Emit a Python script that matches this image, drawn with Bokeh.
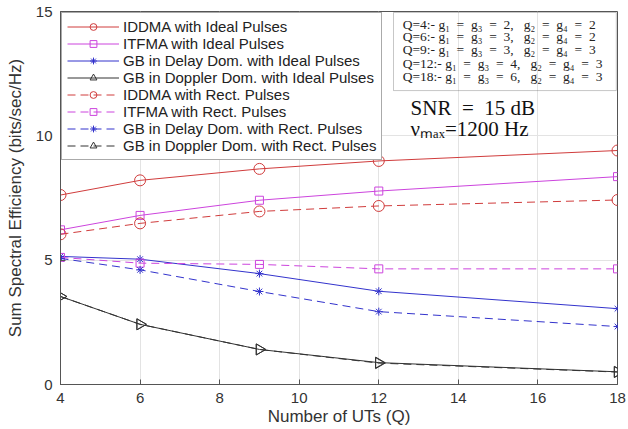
from bokeh.plotting import figure
from bokeh.models import Legend, LegendItem, BoxAnnotation, Label, FixedTicker, Range1d
from bokeh.embed import file_html
from bokeh.resources import INLINE
import numpy as np

Q = [4, 6, 9, 12, 18]
iddma_ideal = [7.62, 8.21, 8.67, 8.99, 9.41]
itfma_ideal = [6.22, 6.80, 7.41, 7.78, 8.36]
gb_delay_ideal = [5.15, 5.04, 4.46, 3.75, 3.05]
gb_doppler_ideal = [3.54, 2.42, 1.41, 0.88, 0.51]
iddma_rect = [6.04, 6.48, 6.96, 7.18, 7.42]
itfma_rect = [5.11, 4.88, 4.83, 4.65, 4.65]
gb_delay_rect = [5.07, 4.61, 3.74, 2.93, 2.33]
gb_doppler_rect = [3.54, 2.42, 1.41, 0.86, 0.50]

x_ticks = [4, 6, 8, 10, 12, 14, 16, 18]
y_ticks = [0, 5, 10, 15]

EQ = "\u2002=\u2002"
info_lines = [
    "Q=4:- g\u2081" + EQ + "g\u2083" + EQ + "2,\u2002 g\u2082" + EQ + "g\u2084" + EQ + "2",
    "Q=6:- g\u2081" + EQ + "g\u2083" + EQ + "3,\u2002 g\u2082" + EQ + "g\u2084" + EQ + "2",
    "Q=9:- g\u2081" + EQ + "g\u2083" + EQ + "3,\u2002 g\u2082" + EQ + "g\u2084" + EQ + "3",
    "Q=12:- g\u2081" + EQ + "g\u2083" + EQ + "4,\u2002 g\u2082" + EQ + "g\u2084" + EQ + "3",
    "Q=18:- g\u2081" + EQ + "g\u2083" + EQ + "6,\u2002 g\u2082" + EQ + "g\u2084" + EQ + "3",
]
snr_text = "SNR" + EQ + "15 dB"
nu_text = "\u03bd\u2098\u2090\u2093=1200 Hz"

RED = "#d03c3c"
MAG = "#cc44dd"
BLUE = "#3333cc"
BLK = "#333333"

p = figure(width=628, height=429, output_backend="svg", toolbar_location=None,
           x_range=Range1d(4, 18), y_range=Range1d(0, 15),
           min_border_left=60, min_border_right=11, min_border_top=11, min_border_bottom=45)
p.background_fill_color = "white"
p.border_fill_color = "white"
p.outline_line_color = "#555555"
p.outline_line_width = 1

for ax in (p.xaxis[0], p.yaxis[0]):
    ax.major_tick_in = 5
    ax.major_tick_out = 0
    ax.minor_tick_in = 0
    ax.minor_tick_out = 0
    ax.axis_line_color = "#555555"
    ax.major_tick_line_color = "#555555"
    ax.major_label_text_font = "Liberation Sans"
    ax.major_label_text_font_size = "15px"
    ax.major_label_text_color = "#333333"
    ax.axis_label_text_font = "Liberation Sans"
    ax.axis_label_text_font_size = "17px"
    ax.axis_label_text_font_style = "normal"
    ax.axis_label_text_color = "#333333"

p.xaxis.ticker = FixedTicker(ticks=x_ticks)
p.yaxis.ticker = FixedTicker(ticks=y_ticks)
p.xaxis.axis_label = "Number of UTs (Q)"
p.yaxis.axis_label = "Sum Spectral Efficiency (bits/sec/Hz)"
p.xaxis.major_label_standoff = 8
p.xaxis.axis_label_standoff = 1
p.yaxis.major_label_standoff = 8
p.yaxis.axis_label_standoff = 8

p.xgrid.ticker = FixedTicker(ticks=x_ticks)
p.ygrid.ticker = FixedTicker(ticks=y_ticks)
p.grid.grid_line_color = "#e3e3e3"
p.grid.grid_line_width = 1

items = []

def series(y, color, marker, dash, label, size, angle=0.0):
    r_line = p.line(Q, y, line_color=color, line_width=1, line_dash=dash)
    r_mark = p.scatter(Q, y, marker=marker, size=size, angle=angle,
                       line_color=color, fill_color=None, line_width=1)
    items.append(LegendItem(label=label, renderers=[r_line, r_mark]))

series(iddma_ideal, RED, "circle", "solid", "IDDMA with Ideal Pulses", 11)
series(itfma_ideal, MAG, "square", "solid", "ITFMA with Ideal Pulses", 8)
series(gb_delay_ideal, BLUE, "asterisk", "solid", "GB in Delay Dom. with Ideal Pulses", 8)
series(gb_doppler_ideal, BLK, "triangle", "solid", "GB in Doppler Dom. with Ideal Pulses", 11, -np.pi / 2)
series(iddma_rect, RED, "circle", "8 5", "IDDMA with Rect. Pulses", 11)
series(itfma_rect, MAG, "square", "8 5", "ITFMA with Rect. Pulses", 8)
series(gb_delay_rect, BLUE, "asterisk", "8 5", "GB in Delay Dom. with Rect. Pulses", 8)
series(gb_doppler_rect, BLK, "triangle", "8 5", "GB in Doppler Dom. with Rect. Pulses", 11, -np.pi / 2)

legend = Legend(items=items, location="top_left", margin=1, padding=5, spacing=0,
                label_height=17, glyph_height=17, glyph_width=52, label_standoff=4,
                label_text_font="Liberation Sans", label_text_font_size="15px",
                label_text_color="#222222", border_line_color="#555555",
                border_line_width=1, background_fill_color="white", background_fill_alpha=1)
p.add_layout(legend, "center")

box = BoxAnnotation(left=12.37, right=17.97, top=14.96, bottom=11.82,
                    fill_color=None, fill_alpha=0, line_color="#444444", line_width=1, level="annotation")
p.add_layout(box)

ys = [14.48, 13.99, 13.47, 12.91, 12.38]
for txt, yy in zip(info_lines, ys):
    p.add_layout(Label(x=12.60, y=yy, text=txt, text_font="Liberation Serif",
                       text_font_size="13.5px", text_baseline="middle", text_color="#222222"))

p.add_layout(Label(x=12.80, y=11.10, text=snr_text, text_font="Liberation Serif",
                   text_font_size="21px", text_baseline="middle", text_color="#111111"))
p.add_layout(Label(x=12.80, y=10.29, text=nu_text, text_font="Liberation Serif",
                   text_font_size="21px", text_baseline="middle", text_color="#111111"))

open("out.html", "w").write(file_html(p, INLINE))
